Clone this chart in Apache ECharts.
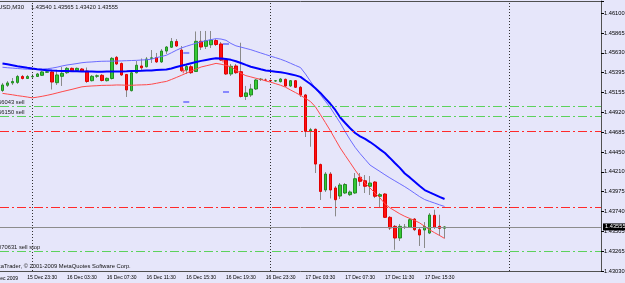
<!DOCTYPE html>
<html>
<head>
<meta charset="utf-8">
<script src="https://cdn.jsdelivr.net/npm/echarts@6/dist/echarts.min.js"></script>
<style>
  html, body { margin: 0; padding: 0; background: #e6e6fa; }
  #chart { width: 625px; height: 283px; }
</style>
</head>
<body>
<div id="chart"></div>
<script>
// EURUSD M30, first bar 15 Dec 21:00, 90 bars, chart shifted with empty space on the right
var firstBarMinutes = 21 * 60;
var slotCount = 121;

var opens = [1.45180, 1.45242, 1.45270, 1.45276, 1.45347, 1.45323, 1.45343, 1.45347, 1.45361, 1.45397,
  1.45401, 1.45273, 1.45349, 1.45392, 1.45444, 1.45418, 1.45436, 1.45412, 1.45297, 1.45350,
  1.45361, 1.45297, 1.45323, 1.45575, 1.45502, 1.45371, 1.45178, 1.45391, 1.45472, 1.45463,
  1.45563, 1.45573, 1.45520, 1.45650, 1.45695, 1.45764, 1.45662, 1.45424, 1.45463, 1.45406,
  1.45766, 1.45706, 1.45725, 1.45776, 1.45734, 1.45543, 1.45377, 1.45472, 1.45404, 1.45109,
  1.45127, 1.45198, 1.45311, 1.45305, 1.45299, 1.45293, 1.45285, 1.45313, 1.45234, 1.45297,
  1.45218, 1.45127, 1.44698, 1.44718, 1.44298, 1.43995, 1.44185, 1.44019, 1.43923, 1.43959,
  1.43939, 1.43959, 1.44146, 1.44105, 1.44039, 1.44090, 1.43920, 1.43947, 1.43669, 1.43562,
  1.43423, 1.43548, 1.43550, 1.43649, 1.43522, 1.43518, 1.43482, 1.43693, 1.43562, 1.43540];
var closes = [1.45246, 1.45270, 1.45287, 1.45347, 1.45323, 1.45347, 1.45347, 1.45377, 1.45401, 1.45403,
  1.45281, 1.45365, 1.45385, 1.45444, 1.45416, 1.45444, 1.45406, 1.45287, 1.45349, 1.45355,
  1.45299, 1.45325, 1.45563, 1.45496, 1.45365, 1.45186, 1.45391, 1.45481, 1.45450, 1.45555,
  1.45569, 1.45520, 1.45650, 1.45698, 1.45764, 1.45710, 1.45418, 1.45466, 1.45392, 1.45766,
  1.45698, 1.45773, 1.45781, 1.45728, 1.45543, 1.45377, 1.45468, 1.45392, 1.45109, 1.45151,
  1.45198, 1.45305, 1.45315, 1.45303, 1.45296, 1.45296, 1.45317, 1.45234, 1.45297, 1.45218,
  1.45127, 1.44694, 1.44713, 1.44304, 1.43977, 1.44185, 1.43995, 1.43879, 1.44054, 1.44060,
  1.43971, 1.44129, 1.44098, 1.44039, 1.44078, 1.43920, 1.43939, 1.43669, 1.43542, 1.43423,
  1.43562, 1.43553, 1.43641, 1.43522, 1.43459, 1.43560, 1.43697, 1.43548, 1.43538, 1.43555];
var lows = [1.45162, 1.45222, 1.45246, 1.45258, 1.45311, 1.45317, 1.45317, 1.45341, 1.45353, 1.45389,
  1.45192, 1.45246, 1.45234, 1.45377, 1.45406, 1.45412, 1.45401, 1.45270, 1.45287, 1.45329,
  1.45287, 1.45287, 1.45311, 1.45484, 1.45353, 1.45103, 1.45168, 1.45383, 1.45424, 1.45454,
  1.45508, 1.45508, 1.45508, 1.45615, 1.45686, 1.45698, 1.45401, 1.45377, 1.45377, 1.45401,
  1.45662, 1.45674, 1.45686, 1.45710, 1.45531, 1.45365, 1.45353, 1.45377, 1.45097, 1.45067,
  1.45103, 1.45186, 1.45293, 1.45293, 1.45281, 1.45281, 1.45275, 1.45222, 1.45222, 1.45210,
  1.45103, 1.44626, 1.44510, 1.44197, 1.43876, 1.43971, 1.43894, 1.43681, 1.43888, 1.43947,
  1.43923, 1.43947, 1.44042, 1.43959, 1.43935, 1.43899, 1.43780, 1.43661, 1.43518, 1.43283,
  1.43387, 1.43530, 1.43542, 1.43506, 1.43328, 1.43304, 1.43470, 1.43530, 1.43447, 1.43420];
var highs = [1.45270, 1.45293, 1.45329, 1.45365, 1.45365, 1.45365, 1.45377, 1.45389, 1.45412, 1.45418,
  1.45412, 1.45424, 1.45460, 1.45460, 1.45454, 1.45454, 1.45448, 1.45454, 1.45365, 1.45371,
  1.45377, 1.45335, 1.45579, 1.45591, 1.45514, 1.45377, 1.45401, 1.45531, 1.45561, 1.45579,
  1.45662, 1.45627, 1.45674, 1.45710, 1.45805, 1.45793, 1.45710, 1.45484, 1.45484, 1.45883,
  1.45889, 1.45889, 1.45889, 1.45793, 1.45758, 1.45567, 1.45496, 1.45496, 1.45749, 1.45234,
  1.45258, 1.45317, 1.45329, 1.45323, 1.45311, 1.45305, 1.45329, 1.45323, 1.45305, 1.45305,
  1.45234, 1.45139, 1.44734, 1.44727, 1.44310, 1.44209, 1.44209, 1.44042, 1.44078, 1.44078,
  1.43989, 1.44197, 1.44197, 1.44173, 1.44161, 1.44102, 1.43959, 1.43959, 1.43685, 1.43578,
  1.43590, 1.43590, 1.43661, 1.43661, 1.43542, 1.43613, 1.43721, 1.43760, 1.43700, 1.43565];

// moving averages
var maThick = [1.45502, 1.45492, 1.45481, 1.45470, 1.45461, 1.45450, 1.45441, 1.45433, 1.45427, 1.45422,
  1.45417, 1.45414, 1.45413, 1.45412, 1.45409, 1.45408, 1.45406, 1.45406, 1.45405, 1.45404,
  1.45404, 1.45405, 1.45405, 1.45406, 1.45407, 1.45409, 1.45412, 1.45413, 1.45414, 1.45417,
  1.45419, 1.45424, 1.45427, 1.45430, 1.45443, 1.45460, 1.45475, 1.45489, 1.45505, 1.45519,
  1.45533, 1.45544, 1.45555, 1.45564, 1.45562, 1.45554, 1.45545, 1.45529, 1.45508, 1.45485,
  1.45463, 1.45448, 1.45433, 1.45419, 1.45411, 1.45404, 1.45397, 1.45387, 1.45374, 1.45360,
  1.45342, 1.45299, 1.45258, 1.45206, 1.45151, 1.45087, 1.45022, 1.44948, 1.44858, 1.44793,
  1.44731, 1.44674, 1.44634, 1.44603, 1.44566, 1.44525, 1.44479, 1.44435, 1.44377, 1.44317,
  1.44258, 1.44191, 1.44145, 1.44094, 1.44043, 1.43994, 1.43966, 1.43940, 1.43913, 1.43888];
var maThin = [1.45457, 1.45451, 1.45447, 1.45442, 1.45437, 1.45433, 1.45430, 1.45432, 1.45436, 1.45439,
  1.45447, 1.45458, 1.45472, 1.45484, 1.45492, 1.45501, 1.45511, 1.45517, 1.45520, 1.45525,
  1.45528, 1.45529, 1.45530, 1.45531, 1.45533, 1.45535, 1.45537, 1.45539, 1.45543, 1.45546,
  1.45553, 1.45571, 1.45585, 1.45600, 1.45629, 1.45659, 1.45686, 1.45706, 1.45725, 1.45743,
  1.45760, 1.45774, 1.45786, 1.45798, 1.45793, 1.45778, 1.45740, 1.45712, 1.45697, 1.45681,
  1.45666, 1.45646, 1.45627, 1.45608, 1.45589, 1.45571, 1.45552, 1.45530, 1.45504, 1.45478,
  1.45453, 1.45377, 1.45290, 1.45204, 1.45129, 1.45053, 1.44975, 1.44885, 1.44793, 1.44689,
  1.44592, 1.44503, 1.44428, 1.44360, 1.44292, 1.44253, 1.44215, 1.44176, 1.44139, 1.44104,
  1.44069, 1.44034, 1.43996, 1.43955, 1.43915, 1.43881, 1.43859, 1.43839, 1.43818, 1.43799];
var maRed = [1.45146, 1.45137, 1.45129, 1.45119, 1.45111, 1.45102, 1.45092, 1.45101, 1.45111, 1.45123,
  1.45136, 1.45151, 1.45166, 1.45180, 1.45194, 1.45209, 1.45224, 1.45230, 1.45234, 1.45237,
  1.45241, 1.45242, 1.45243, 1.45246, 1.45245, 1.45243, 1.45242, 1.45245, 1.45247, 1.45249,
  1.45255, 1.45266, 1.45278, 1.45288, 1.45311, 1.45335, 1.45360, 1.45386, 1.45411, 1.45436,
  1.45460, 1.45474, 1.45488, 1.45503, 1.45493, 1.45479, 1.45461, 1.45422, 1.45384, 1.45357,
  1.45342, 1.45326, 1.45312, 1.45294, 1.45279, 1.45261, 1.45242, 1.45219, 1.45186, 1.45155,
  1.45123, 1.45086, 1.45049, 1.44986, 1.44893, 1.44799, 1.44702, 1.44598, 1.44495, 1.44407,
  1.44320, 1.44232, 1.44150, 1.44077, 1.44018, 1.43959, 1.43901, 1.43831, 1.43783, 1.43747,
  1.43711, 1.43681, 1.43656, 1.43632, 1.43602, 1.43562, 1.43520, 1.43486, 1.43453, 1.43418];

var yLabels = ['1.43030', '1.43265', '1.43505', '1.43740', '1.43975', '1.44210', '1.44450',
  '1.44685', '1.44920', '1.45155', '1.45395', '1.45630', '1.45865', '1.46100'];
var yMin = 1.43030, yMax = 1.46246, yStep = 0.0023615;

var xTickLabels = ['15 Dec 23:30', '16 Dec 03:30', '16 Dec 07:30', '16 Dec 11:30', '16 Dec 15:30',
  '16 Dec 19:30', '16 Dec 23:30', '17 Dec 03:30', '17 Dec 07:30', '17 Dec 11:30', '17 Dec 15:30'];
var daySeparators = ['16 Dec 00:00', '17 Dec 00:00', '18 Dec 00:00'];

var orderPrices = [1.44996, 1.44877, 1.43268];
var orderTexts = ['66043 sell', '66150 sell', '070631 sell stop'];
var stopPrices = [1.44695, 1.43789];
var bidPrice = 1.43555;
var headerText = '1.43540 1.43565 1.43420 1.43555';

// small trade arrows: [bar index, price]
var levelDashes = [[37, 1.45627], [37, 1.45043], [45, 1.45734], [45, 1.45162]];
var tradeCrosses = [[37, 1.45416], [45, 1.45543]];

var FONT = '"Liberation Sans", Arial, sans-serif';
var DASHDOT = [9, 3, 2, 3];

function pad(n) { return n < 10 ? '0' + n : '' + n; }
var categories = [];
for (var i = 0; i < slotCount; i++) {
  var t = firstBarMinutes + i * 30;
  var m = t % 1440;
  categories.push((15 + Math.floor(t / 1440)) + ' Dec ' + pad(Math.floor(m / 60)) + ':' + pad(m % 60));
}

var wickData = [], bodyData = [];
for (var k = 0; k < opens.length; k++) {
  wickData.push([opens[k], closes[k], lows[k], highs[k]]);
  bodyData.push([opens[k], closes[k], Math.min(opens[k], closes[k]), Math.max(opens[k], closes[k])]);
}

function showTick(index, value) { return xTickLabels.indexOf(categories[index]) >= 0; }

// one helper series per kind of level line, coloured at series level too
function levelSeries(items, color, dash, label) {
  return {
    type: 'line', data: [], silent: true, color: color,
    itemStyle: { color: color }, lineStyle: { color: color },
    markLine: { symbol: ['none', 'none'], silent: true, animation: false, precision: 5,
      itemStyle: { color: color },
      lineStyle: { color: color, type: dash, width: 1, opacity: 1 },
      label: label || { show: true, formatter: '' }, data: items }
  };
}

var orderItems = orderPrices.map(function (p, i) {
  return { yAxis: p, label: { formatter: orderTexts[i] } };
});
var stopItems = stopPrices.map(function (p) { return { yAxis: p }; });
var sepItems = daySeparators.map(function (c) { return { xAxis: c }; });

var chart = echarts.init(document.getElementById('chart'), null, { renderer: 'canvas' });
chart.setOption({
  animation: false,
  backgroundColor: '#e6e6fa',
  grid: { left: 0, right: 24, top: 1, bottom: 12, show: false, outerBoundsMode: 'none' },
  xAxis: [{
    type: 'category', data: categories, boundaryGap: true,
    axisLine: { lineStyle: { color: '#505050' } },
    axisTick: { alignWithLabel: true, interval: showTick, length: 3, lineStyle: { color: '#000' } },
    axisLabel: { interval: showTick, align: 'left', margin: 4, fontSize: 5, color: '#000', fontFamily: FONT },
    splitLine: { show: false }
  }, {
    type: 'category', data: categories, position: 'top',
    axisLine: { lineStyle: { color: '#505050' } },
    axisTick: { show: false }, axisLabel: { show: false }, splitLine: { show: false }
  }],
  yAxis: {
    type: 'value', position: 'right', min: yMin, max: yMax, interval: yStep,
    axisLine: { show: true, lineStyle: { color: '#505050' } },
    axisTick: { show: true, length: 3, lineStyle: { color: '#000' } },
    axisLabel: {
      margin: 3, fontSize: 5.7, color: '#000', fontFamily: FONT, showMinLabel: true, showMaxLabel: true,
      formatter: function (v) { return yLabels[Math.round((v - yMin) / yStep)] || ''; }
    },
    splitLine: { show: false }
  },
  series: [
    levelSeries(sepItems, '#303030', [1, 2]),
    levelSeries(stopItems, '#ff2a2a', DASHDOT),
    levelSeries(orderItems, '#5cd25c', DASHDOT,
      { show: true, position: 'insideStartTop', distance: [-2, 1], color: '#222', fontSize: 5.8, fontFamily: FONT }),
    levelSeries([{ yAxis: bidPrice }], '#8c8c8c', 'solid',
      { show: true, position: 'end', distance: 2, formatter: bidPrice.toFixed(5),
        backgroundColor: '#000', color: '#fff', padding: [1, 2, 0, 2], fontSize: 5.7, fontFamily: FONT }),
    { type: 'candlestick', data: wickData, barWidth: 1,
      itemStyle: { color: '#8a8a8a', color0: '#8a8a8a', borderColor: '#8a8a8a', borderColor0: '#8a8a8a', borderWidth: 1 } },
    { type: 'candlestick', data: bodyData, barWidth: 3,
      itemStyle: { color: '#34c834', color0: '#ff1010', borderColor: '#238c23', borderColor0: '#e00000', borderWidth: 1 } },
    { type: 'line', data: maRed, symbol: 'none', lineStyle: { color: '#ff4a4a', width: 1 } },
    { type: 'line', data: maThin, symbol: 'none', lineStyle: { color: '#6c6cff', width: 1 } },
    { type: 'line', data: maThick, symbol: 'none', lineStyle: { color: '#0000ff', width: 2 } },
    { type: 'scatter', data: levelDashes, symbol: 'rect', symbolSize: [6, 2], silent: true,
      itemStyle: { color: '#7070ff' } },
    { type: 'scatter', data: tradeCrosses, symbol: 'path://M2,0H3V2H5V3H3V5H2V3H0V2H2Z', symbolSize: 5,
      symbolOffset: [-3, 0], silent: true, itemStyle: { color: '#ff2020' } }
  ],
  graphic: [
    { type: 'text', x: 24, y: 7, style: { text: 'EURUSD,M30', align: 'right', verticalAlign: 'middle',
      fontSize: 6, fontFamily: FONT, fill: '#111' } },
    { type: 'text', x: 31, y: 7, style: { text: headerText, align: 'left', verticalAlign: 'middle',
      fontSize: 5.7, fontFamily: FONT, fill: '#111' } },
    { type: 'text', x: -9, y: 266, style: { text: 'MetaTrader, \u00a9 2001-2009 MetaQuotes Software Corp.',
      align: 'left', verticalAlign: 'middle', fontSize: 5.8, fontFamily: FONT, fill: '#111' } },
    { type: 'text', x: 18, y: 279, style: { text: '15 Dec 2009', align: 'right', verticalAlign: 'middle',
      fontSize: 5, fontFamily: FONT, fill: '#000' } }
  ]
});
</script>
</body>
</html>
